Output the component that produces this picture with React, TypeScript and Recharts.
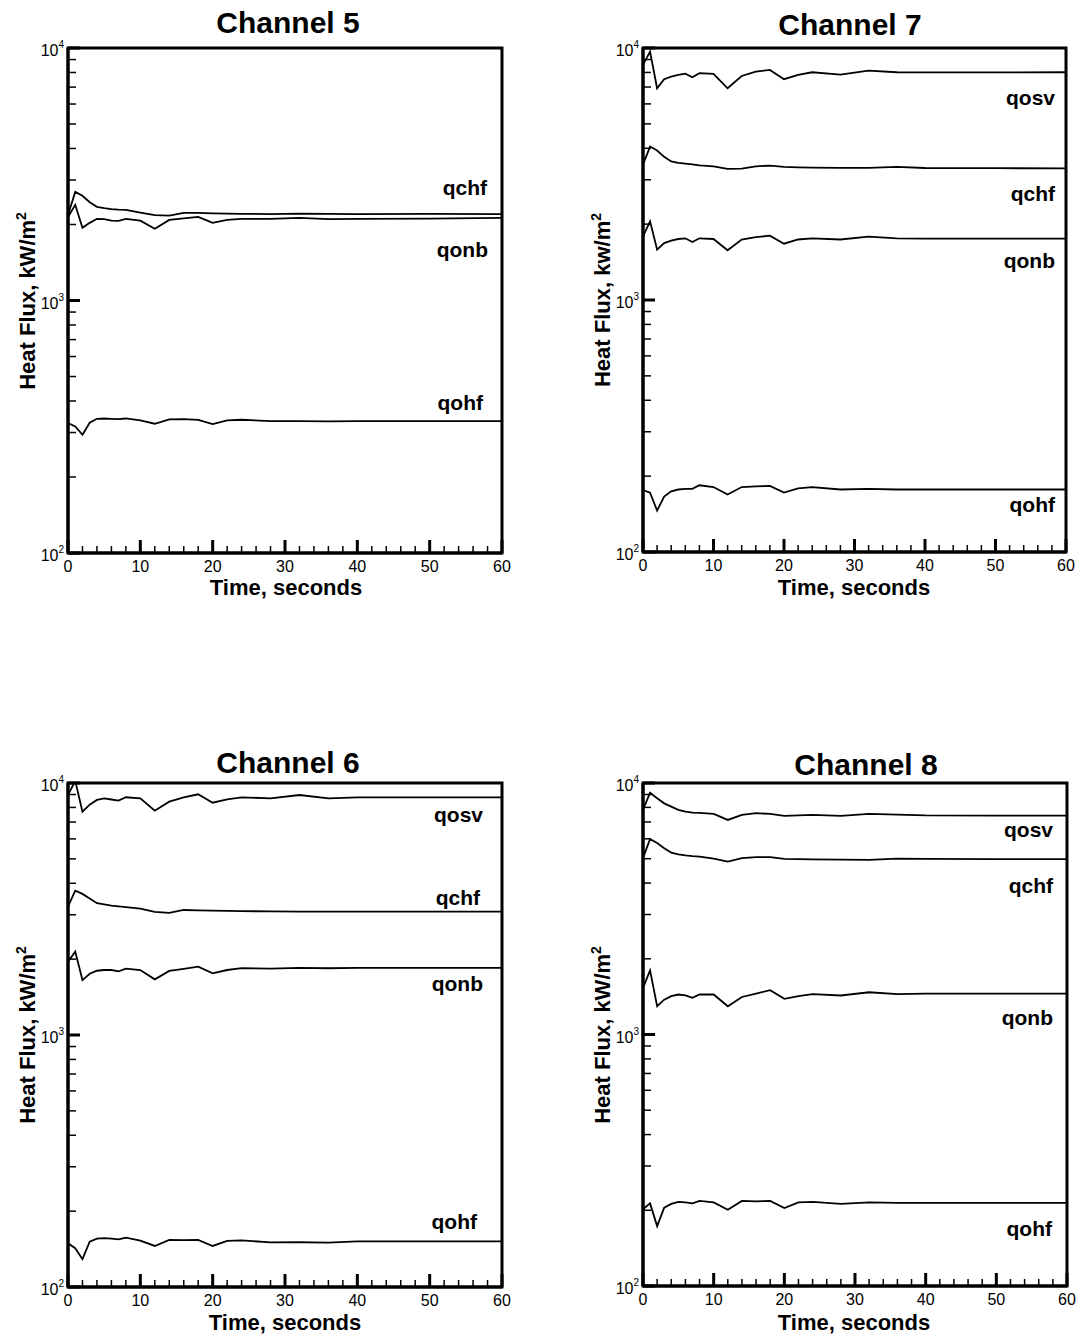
import React from 'react';
import { LineChart, Line, XAxis, YAxis, ReferenceArea } from 'recharts';

// Time samples (seconds)
const time = [0, 1, 2, 3, 4, 5, 6, 7, 8, 10, 12, 14, 16, 18, 20, 22, 24, 28, 32, 36, 40, 50, 60];
const xTicks = [0, 2, 4, 6, 8, 10, 12, 14, 16, 18, 20, 22, 24, 26, 28, 30, 32, 34, 36, 38, 40, 42, 44, 46, 48, 50, 52, 54, 56, 58, 60];
const xLabelTicks = [0, 10, 20, 30, 40, 50, 60];
const yTicks = [100, 200, 300, 400, 500, 600, 700, 800, 900, 1000, 2000, 3000, 4000, 5000, 6000, 7000, 8000, 9000, 10000];
const yLabelTicks = [100, 1000, 10000];

// Channel 5
const ch5_qchf = [2183, 2692, 2600, 2450, 2350, 2320, 2300, 2290, 2286, 2230, 2180, 2170, 2222, 2225, 2215, 2210, 2205, 2200, 2210, 2205, 2200, 2205, 2200];
const ch5_qonb = [2143, 2393, 1941, 2030, 2106, 2100, 2070, 2067, 2106, 2070, 1923, 2086, 2115, 2143, 2029, 2086, 2106, 2106, 2124, 2100, 2106, 2110, 2124];
const ch5_qohf = [327, 317, 294, 328, 340, 341, 340, 339, 341, 335, 325, 338, 339, 337, 324, 335, 337, 333, 333, 332, 333, 333, 333];

// Channel 7
const ch7_qosv = [8567, 9668, 6922, 7519, 7700, 7818, 7910, 7654, 7943, 7889, 6922, 7745, 8060, 8185, 7519, 7818, 8012, 7838, 8128, 8012, 8000, 8000, 8012];
const ch7_qchf = [3443, 4063, 3919, 3700, 3547, 3500, 3474, 3450, 3420, 3393, 3314, 3320, 3393, 3414, 3373, 3360, 3350, 3342, 3345, 3373, 3340, 3335, 3330];
const ch7_qonb = [1789, 2051, 1585, 1683, 1720, 1746, 1757, 1700, 1757, 1746, 1575, 1738, 1775, 1800, 1673, 1738, 1757, 1738, 1783, 1757, 1753, 1753, 1753];
const ch7_qohf = [176, 172, 146, 166, 174, 177, 178, 178, 184, 181, 169, 181, 182, 183, 172, 179, 181, 177, 178, 177, 177, 177, 177];

// Channel 6
const ch6_qosv = [8960, 10200, 7695, 8200, 8566, 8694, 8600, 8511, 8776, 8694, 7763, 8435, 8776, 9021, 8352, 8614, 8776, 8694, 8960, 8694, 8776, 8776, 8776];
const ch6_qchf = [3228, 3738, 3630, 3480, 3333, 3300, 3260, 3240, 3214, 3172, 3080, 3050, 3134, 3120, 3114, 3110, 3100, 3095, 3090, 3088, 3086, 3086, 3086];
const ch6_qonb = [1953, 2142, 1652, 1750, 1799, 1811, 1811, 1790, 1833, 1811, 1663, 1795, 1830, 1866, 1757, 1811, 1841, 1833, 1846, 1840, 1846, 1846, 1846];
const ch6_qohf = [149, 142.5, 129, 151.4, 155.6, 156.4, 155.5, 154.5, 157, 152.7, 145.5, 153.7, 153.5, 153.7, 145.5, 152.3, 153, 150.4, 150.5, 149.9, 151.8, 151.8, 151.8];

// Channel 8
const ch8_qosv = [7816, 9151, 8695, 8300, 8055, 7816, 7700, 7625, 7600, 7532, 7132, 7465, 7584, 7532, 7398, 7430, 7465, 7398, 7532, 7480, 7430, 7420, 7415];
const ch8_qchf = [5026, 5986, 5771, 5500, 5289, 5200, 5150, 5120, 5100, 5000, 4872, 5026, 5070, 5070, 4991, 4980, 4970, 4960, 4946, 5006, 4990, 4985, 4982];
const ch8_qonb = [1532, 1798, 1295, 1376, 1420, 1442, 1430, 1399, 1442, 1442, 1295, 1410, 1455, 1500, 1386, 1420, 1446, 1429, 1472, 1446, 1455, 1455, 1455];
const ch8_qohf = [202, 213, 173, 205, 212, 216, 215, 213, 218, 215, 201, 218, 217, 218, 204, 215, 216, 212, 215, 214, 214, 214, 214];

const FONT = '"Liberation Sans", Arial, Helvetica, sans-serif';

type SeriesDef = { key: string; values: number[]; dy: number; off: number };

const YTick = (props: any) => {
  const { x, y, payload } = props;
  const v = payload.value;
  const major = yLabelTicks.includes(v);
  const exp = Math.round(Math.log10(v));
  return (
    <g>
      <line x1={x} x2={x + (major ? 12 : 8)} y1={y} y2={y} stroke="#000" strokeWidth={major ? 3 : 1.5} />
      {major && (
        <text x={x - 4} y={y + 8} textAnchor="end" fontSize={16} fontFamily={FONT} fill="#000">
          10<tspan dy={-8} fontSize={10}>{exp}</tspan>
        </text>
      )}
    </g>
  );
};

const XTick = (props: any) => {
  const { x, y, payload } = props;
  const v = payload.value;
  const major = xLabelTicks.includes(v);
  return (
    <g>
      <line x1={x} x2={x} y1={y} y2={y - (major ? 13 : 7)} stroke="#000" strokeWidth={major ? 3 : 1.5} />
      {major && (
        <text x={x} y={y + 19} textAnchor="middle" fontSize={16} fontFamily={FONT} fill="#000">
          {v}
        </text>
      )}
    </g>
  );
};

type PanelProps = {
  left: number;
  top: number;
  width: number;
  height: number;
  margin: { top: number; right: number; bottom: number; left: number };
  xAxisHeight: number;
  series: SeriesDef[];
};

function Panel({ left, top, width, height, margin, xAxisHeight, series }: PanelProps) {
  const data = time.map((t, i) => {
    const row: any = { t };
    series.forEach((s) => {
      row[s.key] = s.values[i];
    });
    return row;
  });
  const last = time.length - 1;
  return (
    <div style={{ position: 'absolute', left, top }}>
      <LineChart width={width} height={height} data={data} margin={margin}>
        <XAxis
          dataKey="t"
          type="number"
          domain={[0, 60]}
          ticks={xTicks}
          interval={0}
          height={xAxisHeight}
          tickLine={false}
          tickSize={0}
          tickMargin={0}
          tick={(p: any) => <XTick {...p} />}
          axisLine={{ stroke: '#000', strokeWidth: 3 }}
          allowDataOverflow
        />
        <YAxis
          type="number"
          scale="log"
          domain={[100, 10000]}
          ticks={yTicks}
          interval={0}
          width={60}
          tickLine={false}
          tickSize={0}
          tickMargin={0}
          tick={(p: any) => <YTick {...p} />}
          axisLine={{ stroke: '#000', strokeWidth: 3 }}
          allowDataOverflow
        />
        <ReferenceArea x1={0} x2={60} y1={100} y2={10000} fill="none" fillOpacity={0} stroke="#000" strokeWidth={3} ifOverflow="visible" />
        {series.map((s) => (
          <Line
            key={s.key}
            dataKey={s.key}
            type="linear"
            stroke="#000"
            strokeWidth={1.8}
            dot={false}
            activeDot={false}
            isAnimationActive={false}
            label={(p: any) => {
              const vx = p.x ?? p.viewBox?.x;
              const vy = p.y ?? p.viewBox?.y;
              if (p.index !== last) return <g key={`${s.key}-${p.index}`} />;
              return (
                <text
                  key={`${s.key}-lbl`}
                  x={vx - s.off}
                  y={vy + s.dy}
                  textAnchor="end"
                  fontSize={21}
                  fontWeight="bold"
                  fontFamily={FONT}
                  fill="#000"
                >
                  {s.key}
                </text>
              );
            }}
          />
        ))}
      </LineChart>
    </div>
  );
}

const titles = [
  { text: 'Channel 5', x: 288, y: 33 },
  { text: 'Channel 7', x: 850, y: 35 },
  { text: 'Channel 6', x: 288, y: 773 },
  { text: 'Channel 8', x: 866, y: 775 },
];
const yLabels = [
  { unit: 'kW/m', x: 35, y: 301 },
  { unit: 'kw/m', x: 610, y: 300 },
  { unit: 'kW/m', x: 35, y: 1035 },
  { unit: 'kW/m', x: 610, y: 1035 },
];
const xLabels = [
  { x: 286, y: 595 },
  { x: 854, y: 595 },
  { x: 285, y: 1330 },
  { x: 854, y: 1330 },
];

export default function App() {
  return (
    <div
      style={{
        position: 'absolute',
        left: 0,
        top: 0,
        width: 1091,
        height: 1336,
        overflow: 'hidden',
        background: '#fff',
        fontFamily: FONT,
      }}
    >
      <Panel
        left={0}
        top={0}
        width={545}
        height={620}
        xAxisHeight={60}
        margin={{ top: 48, right: 43, bottom: 7, left: 8 }}
        series={[
          { key: 'qchf', values: ch5_qchf, dy: -19, off: 15 },
          { key: 'qonb', values: ch5_qonb, dy: 39, off: 14 },
          { key: 'qohf', values: ch5_qohf, dy: -11, off: 19 },
        ]}
      />
      <Panel
        left={546}
        top={0}
        width={545}
        height={619}
        xAxisHeight={60}
        margin={{ top: 48, right: 25, bottom: 7, left: 37 }}
        series={[
          { key: 'qosv', values: ch7_qosv, dy: 33, off: 11 },
          { key: 'qchf', values: ch7_qchf, dy: 33, off: 11 },
          { key: 'qonb', values: ch7_qonb, dy: 29, off: 11 },
          { key: 'qohf', values: ch7_qohf, dy: 22, off: 11 },
        ]}
      />
      <Panel
        left={0}
        top={730}
        width={545}
        height={606}
        xAxisHeight={49}
        margin={{ top: 53, right: 43, bottom: 0, left: 8 }}
        series={[
          { key: 'qosv', values: ch6_qosv, dy: 25, off: 19 },
          { key: 'qchf', values: ch6_qchf, dy: -7, off: 22 },
          { key: 'qonb', values: ch6_qonb, dy: 23, off: 19 },
          { key: 'qohf', values: ch6_qohf, dy: -12, off: 25 },
        ]}
      />
      <Panel
        left={546}
        top={730}
        width={545}
        height={605}
        xAxisHeight={49}
        margin={{ top: 53, right: 24, bottom: 0, left: 37 }}
        series={[
          { key: 'qosv', values: ch8_qosv, dy: 21, off: 14 },
          { key: 'qchf', values: ch8_qchf, dy: 34, off: 14 },
          { key: 'qonb', values: ch8_qonb, dy: 31, off: 14 },
          { key: 'qohf', values: ch8_qohf, dy: 33, off: 15 },
        ]}
      />
      <svg
        width={1091}
        height={1336}
        style={{ position: 'absolute', left: 0, top: 0, pointerEvents: 'none' }}
      >
        {titles.map((t) => (
          <text key={t.text} x={t.x} y={t.y} textAnchor="middle" fontSize={30} fontWeight="bold" fontFamily={FONT} fill="#000">
            {t.text}
          </text>
        ))}
        {yLabels.map((l, i) => (
          <text
            key={`yl${i}`}
            x={l.x}
            y={l.y}
            transform={`rotate(-90, ${l.x}, ${l.y})`}
            textAnchor="middle"
            fontSize={22}
            fontWeight="bold"
            fontFamily={FONT}
            fill="#000"
          >
            {`Heat Flux, ${l.unit}`}
            <tspan dy={-9} fontSize={14}>2</tspan>
          </text>
        ))}
        {xLabels.map((l, i) => (
          <text key={`xl${i}`} x={l.x} y={l.y} textAnchor="middle" fontSize={22} fontWeight="bold" fontFamily={FONT} fill="#000">
            Time, seconds
          </text>
        ))}
      </svg>
    </div>
  );
}
